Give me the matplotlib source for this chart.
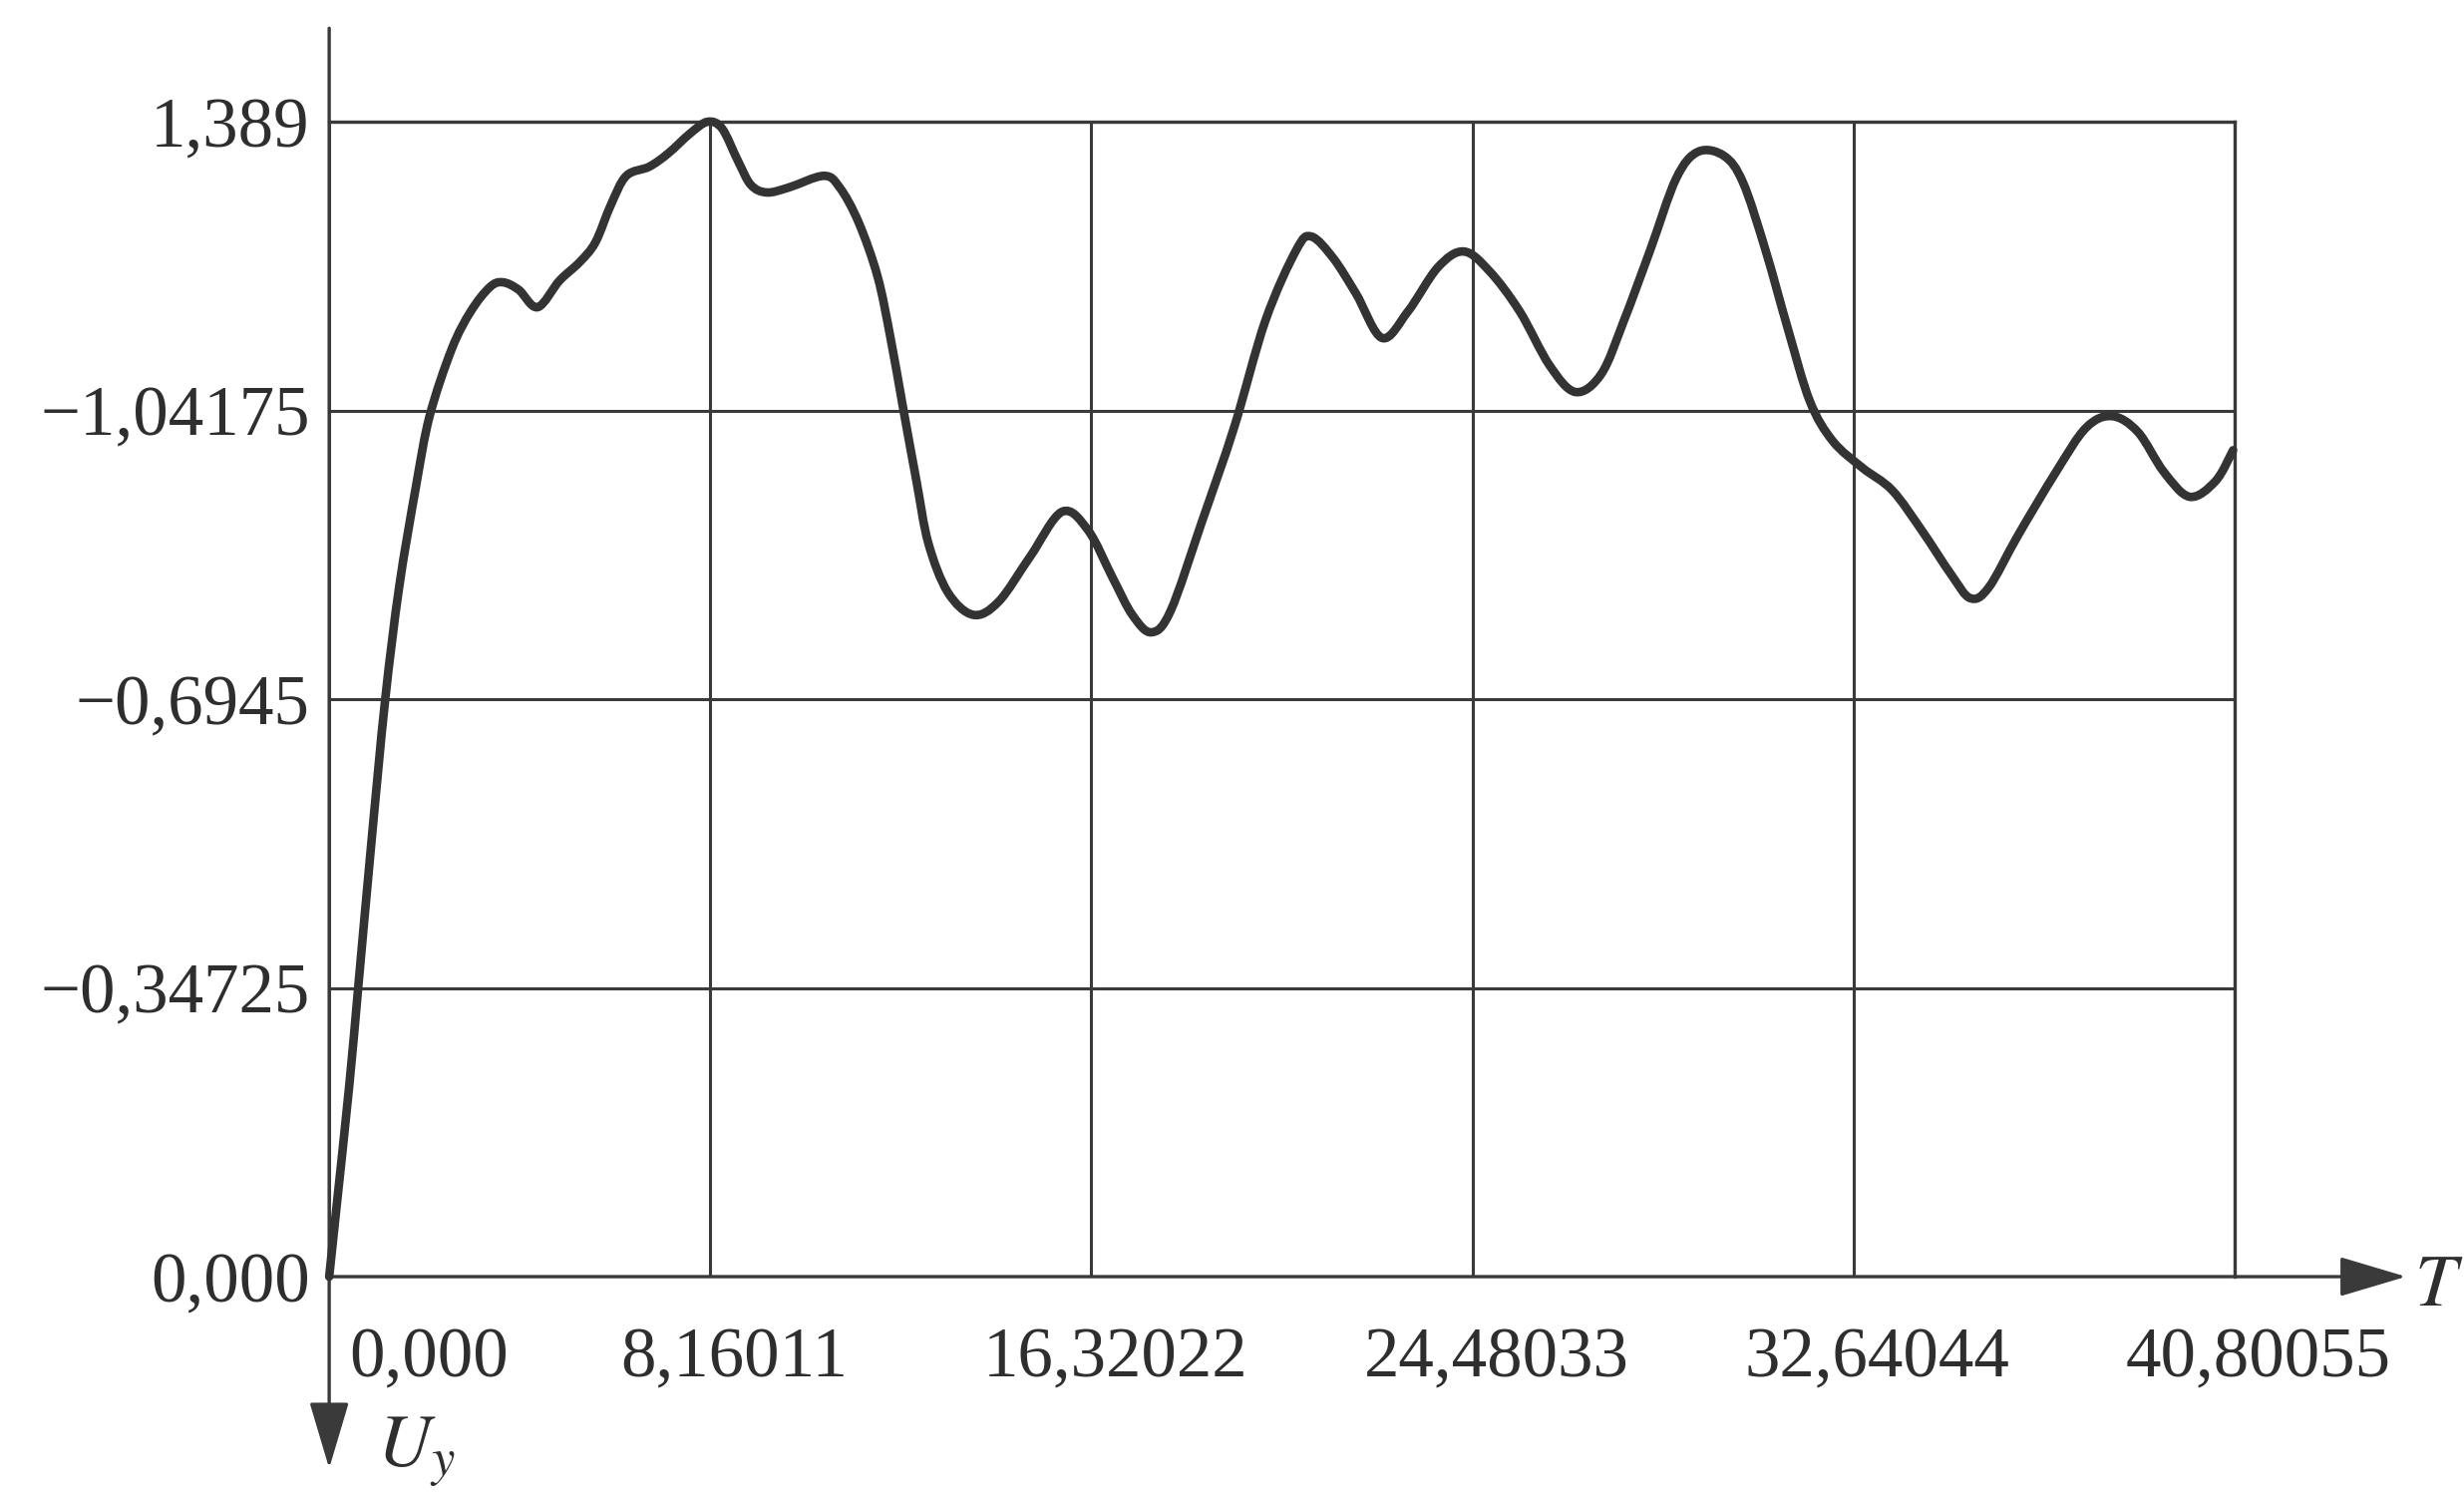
import matplotlib
matplotlib.use("Agg")
import numpy as np
import matplotlib.pyplot as plt
from matplotlib.patches import FancyArrowPatch, PathPatch
from matplotlib.path import Path
from matplotlib.transforms import ScaledTranslation

plt.rcParams["font.family"] = ["Liberation Serif", "DejaVu Serif"]
plt.rcParams["mathtext.fontset"] = "stix"

# Transient response U_y(T)
T = [0.0, 0.15, 0.43, 0.62, 0.90, 1.20, 1.50, 1.857, 2.15,
     2.626, 3.032, 3.437, 3.715, 4.057, 4.462, 4.932, 5.359, 5.700, 6.031,
     6.362, 6.853, 7.259, 7.729, 8.100, 8.412, 8.753, 9.031, 9.373, 9.842,
     10.590, 10.931, 11.337, 11.742, 12.020, 12.298, 12.575, 12.831, 13.248, 13.792,
     14.337, 15.009, 15.692, 16.247, 16.781, 17.197, 17.605, 18.019, 18.694, 19.375,
     20.048, 20.710, 21.030, 21.500, 21.991, 22.546, 23.101, 23.741, 24.296, 24.851,
     25.492, 26.132, 26.688, 27.243, 27.725, 28.289, 28.844, 29.313, 29.868, 30.274,
     30.754, 31.235, 31.705, 32.196, 32.828, 33.466, 34.096, 34.737, 35.142, 35.537,
     36.167, 36.978, 37.619, 38.174, 38.729, 39.284, 39.839, 40.394, 40.768]
U = [0.000, 0.080, 0.230, 0.347, 0.520, 0.6945, 0.830, 0.950, 1.035,
     1.116, 1.161, 1.190, 1.196, 1.187, 1.166, 1.198, 1.220, 1.244, 1.289,
     1.324, 1.335, 1.351, 1.375, 1.389, 1.381, 1.342, 1.313, 1.304, 1.310,
     1.324, 1.310, 1.268, 1.203, 1.129, 1.042, 0.957, 0.882, 0.823, 0.796,
     0.812, 0.866, 0.920, 0.898, 0.840, 0.796, 0.775, 0.801, 0.909, 1.021,
     1.150, 1.235, 1.251, 1.225, 1.182, 1.129, 1.161, 1.214, 1.233, 1.209,
     1.161, 1.096, 1.064, 1.086, 1.150, 1.235, 1.321, 1.353, 1.348, 1.316,
     1.235, 1.140, 1.053, 1.005, 0.973, 0.946, 0.898, 0.844, 0.816, 0.829,
     0.892, 0.968, 1.021, 1.035, 1.016, 0.968, 0.938, 0.957, 0.994]

x_ticks = [0.0, 8.16011, 16.32022, 24.48033, 32.64044, 40.80055]
x_labels = ["0,000", "8,16011", "16,32022", "24,48033", "32,64044", "40,80055"]
y_ticks = [0.0, 0.34725, 0.6945, 1.04175, 1.389]
y_labels = ["0,000", "\u22120,34725", "\u22120,6945", "\u22121,04175", "1,389"]

ink = "#2e2e2e"
grid_ink = "#3a3a3a"


def smooth_path(xs, ys):
    """Catmull-Rom curve through the points, expressed as cubic Bezier segments."""
    p = np.column_stack([xs, ys]).astype(float)
    ext = np.vstack([p[0], p, p[-1]])
    verts = [p[0]]
    codes = [Path.MOVETO]
    for i in range(1, len(ext) - 2):
        p0, p1, p2, p3 = ext[i - 1], ext[i], ext[i + 1], ext[i + 2]
        c1 = p1 + (p2 - p0) / 6.0
        c2 = p2 - (p3 - p1) / 6.0
        verts += [c1, c2, p2]
        codes += [Path.CURVE4] * 3
    return Path(np.array(verts), codes)


fig = plt.figure(figsize=(24.71, 15.04), dpi=100)
ax = fig.add_axes([0.1336, 0.1489, 0.7733, 0.7699])
ax.set_xlim(x_ticks[0], x_ticks[-1])
ax.set_ylim(y_ticks[0], y_ticks[-1])

for s in ["left", "bottom"]:
    ax.spines[s].set_visible(False)
for s in ["top", "right"]:
    ax.spines[s].set_color(grid_ink)
    ax.spines[s].set_linewidth(2.4)

ax.set_xticks(x_ticks, x_labels)
ax.set_yticks(y_ticks, y_labels)
ax.grid(True, color=grid_ink, linewidth=2.2)
ax.tick_params(axis="both", length=0, labelsize=51, colors=ink)
ax.tick_params(axis="x", pad=36)
ax.tick_params(axis="y", pad=14)

# shift x labels slightly right of their grid lines
for i, lab in enumerate(ax.get_xticklabels()):
    if i == 0:
        lab.set_ha("left")
        lab.set_transform(lab.get_transform() + ScaledTranslation(20 / 100, 0, fig.dpi_scale_trans))
    else:
        lab.set_transform(lab.get_transform() + ScaledTranslation(24 / 100, 0, fig.dpi_scale_trans))

# the response curve, drawn smooth through the sampled values
curve = PathPatch(smooth_path(T, U), facecolor="none", edgecolor="#333333",
                  linewidth=6.2, joinstyle="round", capstyle="round",
                  clip_on=False, zorder=5)
ax.add_patch(curve)

# axis arrows
arrow_style = "-|>,head_length=4.2,head_width=1.25"
y_arrow = FancyArrowPatch((0, 1.081), (0, -0.166), transform=ax.transAxes,
                          arrowstyle=arrow_style, mutation_scale=10,
                          color=grid_ink, linewidth=2.4, shrinkA=0, shrinkB=0,
                          clip_on=False, zorder=4)
x_arrow = FancyArrowPatch((0, 0), (1.090, 0), transform=ax.transAxes,
                          arrowstyle=arrow_style, mutation_scale=10,
                          color=grid_ink, linewidth=2.4, shrinkA=0, shrinkB=0,
                          clip_on=False, zorder=4)
ax.add_patch(y_arrow)
ax.add_patch(x_arrow)

ax.text(1.094, -0.010, r"$T$", transform=ax.transAxes, fontsize=54,
        color=ink, ha="left", va="center")
ax.text(0.025, -0.152, r"$U_y$", transform=ax.transAxes, fontsize=54,
        color=ink, ha="left", va="center")

fig.savefig("out.png", dpi=100, facecolor="white")
